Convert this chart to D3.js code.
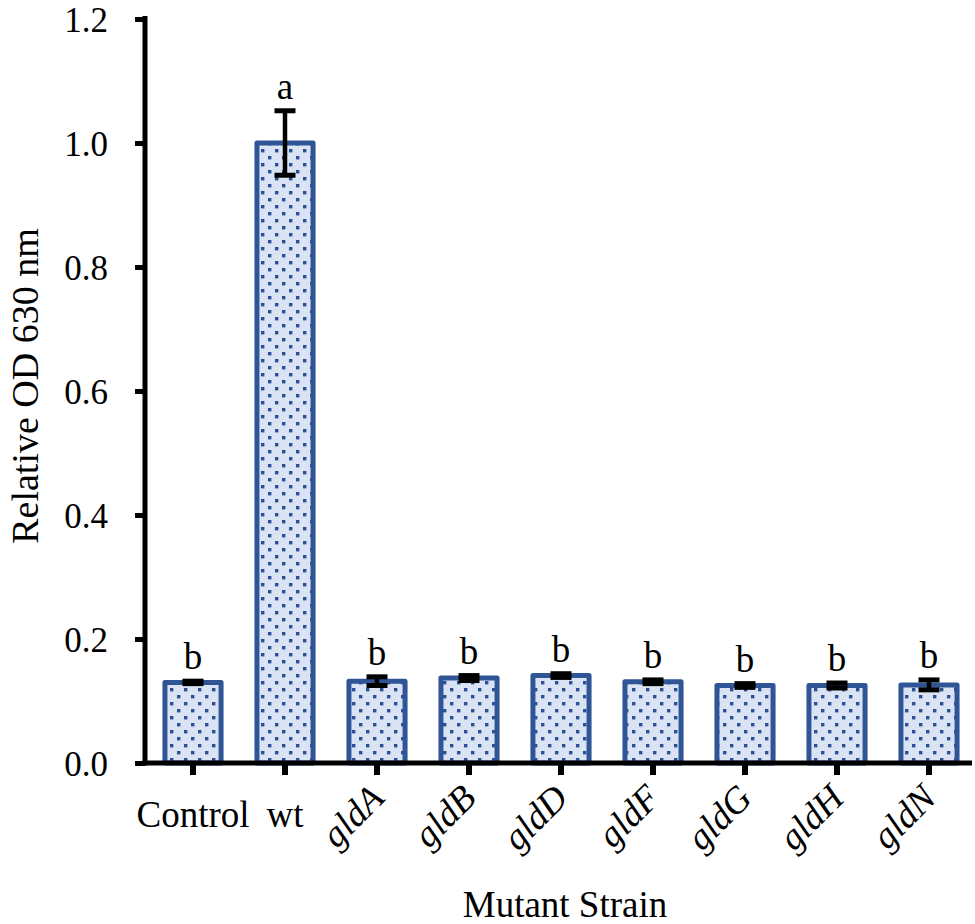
<!DOCTYPE html>
<html><head><meta charset="utf-8">
<script src="https://cdn.jsdelivr.net/npm/d3@7"></script>
<style>body{margin:0;background:#fff}svg{display:block}text{font-family:"Liberation Serif","Times New Roman",serif;fill:#000}</style>
</head><body>
<script>
const categories = ["Control","wt","gldA","gldB","gldD","gldF","gldG","gldH","gldN"];
const italicCats = ["gldA","gldB","gldD","gldF","gldG","gldH","gldN"];
const values = [0.130, 1.000, 0.132, 0.137, 0.141, 0.131, 0.125, 0.125, 0.126];
const errors = [0.002, 0.052, 0.007, 0.004, 0.003, 0.003, 0.003, 0.004, 0.008];
const letters = ["b","a","b","b","b","b","b","b","b"];
const yTicks = [0,0.2,0.4,0.6,0.8,1.0,1.2];
const yTitle = "Relative OD 630 nm";
const xTitle = "Mutant Strain";

const W=975,H=924;
const svg=d3.select("body").append("svg").attr("width",W).attr("height",H);
const defs=svg.append("defs");
const pat=defs.append("pattern").attr("id","dots").attr("patternUnits","userSpaceOnUse")
  .attr("width",14).attr("height",14).attr("x",0).attr("y",0);
pat.append("rect").attr("width",14).attr("height",14).attr("fill","#DAE3F3");
pat.append("rect").attr("x",2).attr("y",2).attr("width",3.4).attr("height",3.4).attr("fill","#2A4F94");
pat.append("rect").attr("x",9).attr("y",9).attr("width",3.4).attr("height",3.4).attr("fill","#2A4F94");

const y=d3.scaleLinear().domain([0,1.2]).range([763,19]);
const x=d3.scaleBand().domain(categories).range([147,975]).paddingInner(0.39).paddingOuter(0.195);
const blue="#2F5597";

// bars
svg.append("g").selectAll("rect").data(categories).join("rect")
  .attr("x",d=>x(d)).attr("width",x.bandwidth())
  .attr("y",(d,i)=>y(values[i])).attr("height",(d,i)=>y(0)-y(values[i]))
  .attr("fill","url(#dots)").attr("stroke",blue).attr("stroke-width",5).attr("stroke-linejoin","round");

// error bars
const eg=svg.append("g").attr("stroke","#000");
categories.forEach((c,i)=>{
  const cx=x(c)+x.bandwidth()/2;
  const t=y(values[i]+errors[i]), b=y(values[i]-errors[i]);
  eg.append("line").attr("x1",cx).attr("x2",cx).attr("y1",t).attr("y2",b).attr("stroke-width",4.5);
  [t,b].forEach(v=>eg.append("line").attr("x1",cx-10.5).attr("x2",cx+10.5).attr("y1",v).attr("y2",v).attr("stroke-width",5));
  svg.append("text").attr("x",cx).attr("y",t-12).attr("text-anchor","middle").attr("font-size",37).text(letters[i]);
});

// y axis
const ya=svg.append("g").attr("transform","translate(145,0)")
  .call(d3.axisLeft(y).tickValues(yTicks).tickFormat(d3.format(".1f")).tickSize(10).tickSizeOuter(0));
ya.select(".domain").attr("stroke","#000").attr("stroke-width",5).attr("d","M0,16V765.5");
ya.selectAll(".tick line").attr("stroke","#000").attr("stroke-width",5);
ya.selectAll(".tick text").attr("font-size",35).attr("x",-37).attr("dy","0.36em").attr("font-family","Liberation Serif");

// x axis
const xa=svg.append("g").attr("transform","translate(0,763)")
  .call(d3.axisBottom(x).tickSize(12).tickSizeOuter(0).tickFormat(""));
xa.select(".domain").attr("stroke","#000").attr("stroke-width",5).attr("d","M142.5,0H972");
xa.selectAll(".tick line").attr("stroke","#000").attr("stroke-width",6);

categories.forEach(c=>{
  const cx=x(c)+x.bandwidth()/2;
  if(italicCats.includes(c)){
    svg.append("text").attr("transform",`translate(${cx+9},800) rotate(-45)`)
      .attr("text-anchor","end").attr("font-size",37).attr("font-style","italic").text(c);
  } else {
    svg.append("text").attr("x",cx).attr("y",827).attr("text-anchor","middle").attr("font-size",37).text(c);
  }
});

svg.append("text").attr("transform","translate(38,386) rotate(-90)").attr("text-anchor","middle").attr("font-size",38).text(yTitle);
svg.append("text").attr("x",565).attr("y",917).attr("text-anchor","middle").attr("font-size",37).text(xTitle);
</script>
</body></html>
